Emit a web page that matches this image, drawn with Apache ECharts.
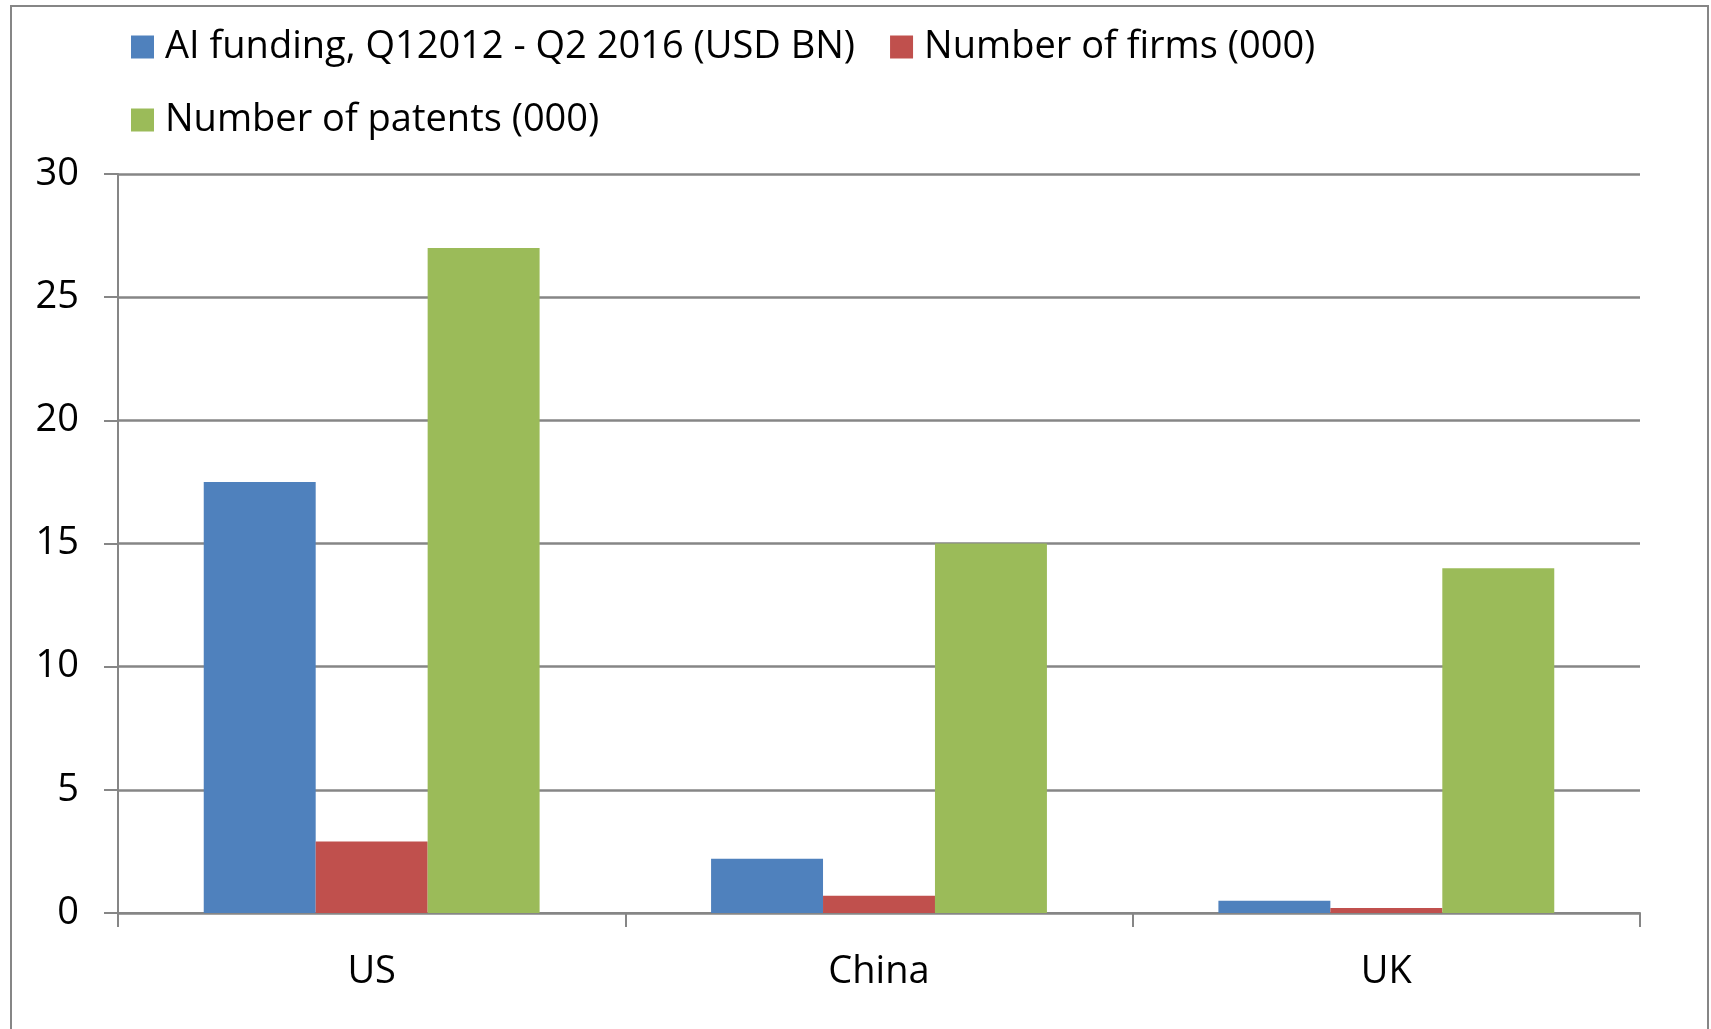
<!DOCTYPE html>
<html>
<head>
<meta charset="utf-8">
<style>
    html, body { margin: 0; padding: 0; background: #fff; }
    #chart { width: 1711px; height: 1029px; }
</style>
<script src="https://cdn.jsdelivr.net/npm/echarts@6/dist/echarts.min.js"></script>
</head>
<body>
<div id="chart"></div>
<script>
// data
const categories = ['US', 'China', 'UK'];
const seriesNames = ['AI funding, Q12012 - Q2 2016 (USD BN)', 'Number of firms (000)', 'Number of patents (000)'];
const funding = [17.5, 2.2, 0.5];
const firms = [2.9, 0.7, 0.2];
const patents = [27, 15, 14];
const seriesColors = ['#4F81BD', '#C0504D', '#9BBB59'];

const axisGray = '#868686';
const fontFamily = '"Open Sans", "Noto Sans", sans-serif';

const chart = echarts.init(document.getElementById('chart'));

const makeBar = (name, data, color) => ({
    name: name,
    type: 'bar',
    data: data,
    barGap: 0,
    barCategoryGap: '33.8%',
    itemStyle: { color: color },
    emphasis: { disabled: true },
});

chart.setOption({
    animation: false,
    textStyle: { fontFamily: fontFamily },
    // outer chart border
    graphic: [{
        type: 'rect',
        shape: { x: 11, y: 6, width: 1697, height: 1060 },
        style: { fill: 'none', stroke: axisGray, lineWidth: 2 },
        silent: true,
    }],
    legend: {
        left: 126,
        top: 23,
        width: 1280,
        itemWidth: 23,
        itemHeight: 23,
        itemGap: 35,
        icon: 'rect',
        textStyle: {
            fontSize: 38,
            lineHeight: 38,
            color: '#000',
            padding: [0, 0, 0, 6],
        },
        data: seriesNames,
    },
    grid: {
        left: 118,
        right: 71,
        top: 174,
        bottom: 116,
        containLabel: false,
    },
    xAxis: {
        type: 'category',
        data: categories,
        axisLine: { lineStyle: { color: axisGray, width: 2 } },
        axisTick: { show: true, length: 14, lineStyle: { color: axisGray, width: 2 } },
        axisLabel: { fontSize: 38, color: '#000', margin: 40 },
    },
    yAxis: {
        type: 'value',
        min: 0,
        max: 30,
        interval: 5,
        axisLine: { show: true, lineStyle: { color: axisGray, width: 2 } },
        axisTick: { show: true, length: 14, lineStyle: { color: axisGray, width: 2 } },
        axisLabel: { fontSize: 38, color: '#000', margin: 39 },
        splitLine: { lineStyle: { color: axisGray, width: 2.5 } },
    },
    series: [
        makeBar(seriesNames[0], funding, seriesColors[0]),
        makeBar(seriesNames[1], firms, seriesColors[1]),
        makeBar(seriesNames[2], patents, seriesColors[2]),
    ],
});
</script>
</body>
</html>
